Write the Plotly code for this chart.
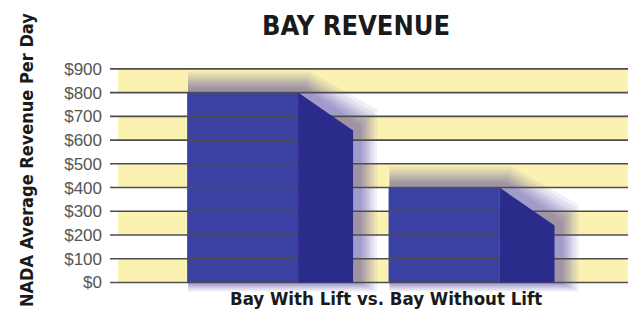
import plotly.graph_objects as go

categories = ["Bay With Lift", "Bay Without Lift"]
revenue = [800, 400]
tick_values = [0, 100, 200, 300, 400, 500, 600, 700, 800, 900]
tick_labels = ["$0", "$100", "$200", "$300", "$400", "$500", "$600", "$700", "$800", "$900"]

# geometry (axis units)
pos = list(range(len(categories)))
BAR_W = 0.551
DEPTH = 0.273
DROP = 160
XR = [-0.658, 1.913]
YR = [-40, 950]
PX_X = 518 / (XR[1] - XR[0])   # px per x unit
PX_Y = 235 / (YR[1] - YR[0])   # px per y unit

FRONT = "#3a54b0"
SIDE = "#2b2b8c"
GLOW = "#46349e"
YELLOW = "#fbf2b2"
GRID = "#4d4d4d"
NARROW = "DejaVu Sans Condensed, Liberation Sans Narrow, Roboto Condensed, Arial Narrow, sans-serif"

fig = go.Figure()

# yellow bands
shapes = []
for lo in tick_values[::2]:
    shapes.append(dict(type="rect", xref="paper", yref="y", x0=0.0155, x1=1.0,
                       y0=lo, y1=lo + 100, fillcolor=YELLOW, line=dict(width=0),
                       layer="below"))

# glow layers (soft purple shadow)
for i, (x, v) in enumerate(zip(pos, revenue)):
    for k in [18, 15, 12, 10, 8, 6, 4, 2]:
        ex = k / PX_X
        ey = k / PX_Y
        ox = 6 / PX_X
        oy = 3 / PX_Y
        xl = x - BAR_W / 2 + 1 / PX_X
        xm = x + BAR_W / 2 + ox
        xr = x + BAR_W / 2 + DEPTH + ex + ox
        yt = v + ey + oy
        ys = v - DROP + ey + oy
        yb = -ey * 0.5
        fig.add_trace(go.Scatter(
            x=[xl, xl, xm + ex * 0.3, xr, xr, xl],
            y=[yb, yt, yt, ys, yb, yb],
            mode="lines", fill="toself", fillcolor=GLOW, opacity=0.08,
            line=dict(width=0),
            hoverinfo="skip", showlegend=False))

# gridlines
for t in tick_values:
    fig.add_trace(go.Scatter(x=[XR[0], XR[1]], y=[t, t], mode="lines",
                             line=dict(color=GRID, width=1.6),
                             hoverinfo="skip", showlegend=False))

# side faces
for x, v in zip(pos, revenue):
    x0 = x + BAR_W / 2
    x1 = x0 + DEPTH
    fig.add_trace(go.Scatter(
        x=[x0, x1, x1, x0, x0], y=[v, v - DROP, 0, 0, v],
        mode="lines", fill="toself", fillcolor=SIDE,
        line=dict(width=0), hoverinfo="skip", showlegend=False))

# front faces
fig.add_trace(go.Bar(x=pos, y=revenue, width=BAR_W, marker=dict(color=FRONT, line=dict(width=0)),
                     showlegend=False, hovertext=categories))

fig.update_layout(
    width=629, height=303,
    margin=dict(l=102, r=9, t=49, b=19),
    paper_bgcolor="white", plot_bgcolor="white",
    shapes=shapes,
    xaxis=dict(range=XR, visible=False, fixedrange=True),
    yaxis=dict(range=YR, tickvals=tick_values, ticktext=tick_labels,
               showgrid=False, zeroline=False, showline=False,
               ticks="", ticklabelstandoff=7, fixedrange=True,
               tickfont=dict(family="Liberation Sans, Arial", size=17, color="#555555")),
    annotations=[
        dict(text="<b>BAY REVENUE</b>", xref="paper", yref="paper",
             x=(355.5 - 110) / 518, y=(292 - 25) / 235, xanchor="center", yanchor="middle",
             showarrow=False,
             font=dict(family=NARROW, size=27, color="#1a1a1a")),
        dict(text="<b>Bay With Lift vs. Bay Without Lift</b>", xref="paper", yref="paper",
             x=(386 - 110) / 518, y=(292 - 298) / 235, xanchor="center", yanchor="middle",
             showarrow=False,
             font=dict(family=NARROW, size=18.5, color="#1a1a1a")),
        dict(text="<b>NADA Average Revenue Per Day</b>", xref="paper", yref="paper",
             x=(26 - 110) / 518, y=(292 - 160) / 235, xanchor="center", yanchor="middle",
             showarrow=False, textangle=-90,
             font=dict(family=NARROW, size=18, color="#1a1a1a")),
    ],
)

fig.write_html("out.html")
